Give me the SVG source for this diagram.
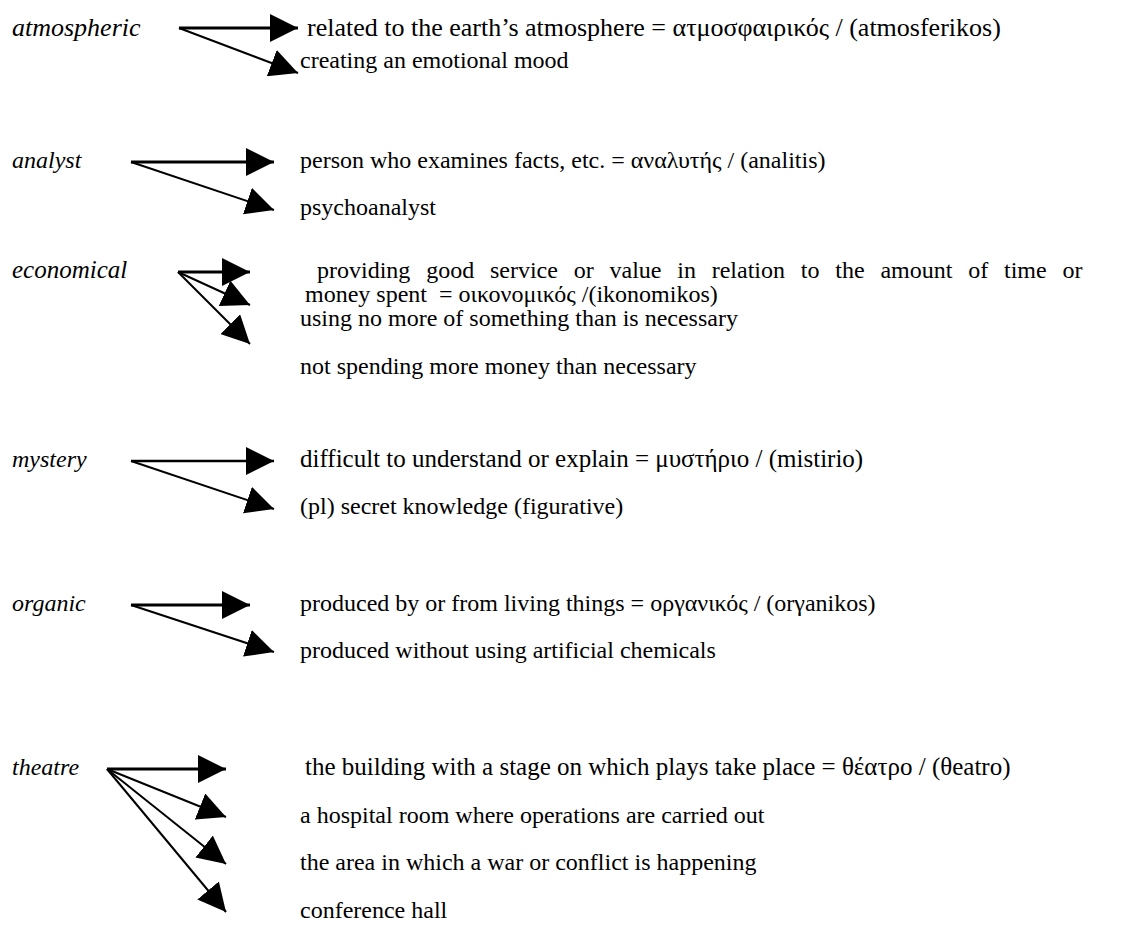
<svg xmlns="http://www.w3.org/2000/svg" width="1122" height="929" viewBox="0 0 1122 929">
<style>
text{font-family:"Liberation Serif","Times New Roman",serif;font-size:24px;fill:#000}
.w{font-style:italic}
.b{font-size:26px}
.m{font-size:25px}
.pre{white-space:pre}
.c line{stroke:#000;stroke-width:2}
.c line.h{stroke-width:3}
</style>
<defs>
<marker id="ah" markerUnits="userSpaceOnUse" viewBox="0 -14 28 28" refX="28" refY="0" markerWidth="28" markerHeight="28" orient="auto">
<path d="M0,-14 L28,0 L0,14 Z" fill="#000"/>
</marker>
</defs>
<rect width="1122" height="929" fill="#fff"/>
<g id="atmospheric">
<text class="w b" x="12" y="36">atmospheric</text>
<text class="b" x="307" y="36">related to the earth’s atmosphere = ατμοσφαιρικός / (atmosferikos)</text>
<text x="300" y="68">creating an emotional mood</text>
</g>
<g id="analyst">
<text class="w" x="12" y="168">analyst</text>
<text x="300" y="168">person who examines facts, etc. = αναλυτής / (analitis)</text>
<text x="300" y="215">psychoanalyst</text>
</g>
<g id="economical">
<text class="w m" x="12" y="278">economical</text>
<text x="317" y="278" word-spacing="9.8">providing good service or value in relation to the amount of time or</text>
<text class="pre" x="305" y="302">money spent  = οικονομικός /(ikonomikos)</text>
<text x="300" y="326">using no more of something than is necessary</text>
<text x="300" y="374">not spending more money than necessary</text>
</g>
<g id="mystery">
<text class="w" x="12" y="467">mystery</text>
<text class="m" x="300" y="467">difficult to understand or explain = μυστήριο / (mistirio)</text>
<text x="300" y="514">(pl) secret knowledge (figurative)</text>
</g>
<g id="organic">
<text class="w" x="12" y="611">organic</text>
<text x="300" y="611">produced by or from living things = οργανικός / (orγanikos)</text>
<text x="300" y="658">produced without using artificial chemicals</text>
</g>
<g id="theatre">
<text class="w" x="12" y="775">theatre</text>
<text class="m" x="305" y="775">the building with a stage on which plays take place = θέατρο / (θeatro)</text>
<text x="300" y="823">a hospital room where operations are carried out</text>
<text x="300" y="870">the area in which a war or conflict is happening</text>
<text x="300" y="918">conference hall</text>
</g>
<g id="connectors" class="c">
<line class="h" x1="179" y1="28" x2="298" y2="28" marker-end="url(#ah)"/>
<line x1="179" y1="28" x2="298" y2="73" marker-end="url(#ah)"/>
<line class="h" x1="131" y1="162" x2="274" y2="162" marker-end="url(#ah)"/>
<line x1="131" y1="162" x2="274" y2="210" marker-end="url(#ah)"/>
<line class="h" x1="178" y1="272" x2="250" y2="272" marker-end="url(#ah)"/>
<line x1="178" y1="272" x2="250" y2="305" marker-end="url(#ah)"/>
<line x1="178" y1="272" x2="250" y2="344" marker-end="url(#ah)"/>
<line x1="131" y1="461" x2="274" y2="461" style="stroke-width:2.3" marker-end="url(#ah)"/>
<line x1="131" y1="461" x2="274" y2="509" marker-end="url(#ah)"/>
<line class="h" x1="131" y1="605" x2="250" y2="605" marker-end="url(#ah)"/>
<line x1="131" y1="605" x2="274" y2="652" marker-end="url(#ah)"/>
<line class="h" x1="107" y1="769" x2="226" y2="769" marker-end="url(#ah)"/>
<line x1="107" y1="769" x2="226" y2="817" marker-end="url(#ah)"/>
<line x1="107" y1="769" x2="226" y2="864" marker-end="url(#ah)"/>
<line x1="107" y1="769" x2="226" y2="912" marker-end="url(#ah)"/>
</g>
</svg>
